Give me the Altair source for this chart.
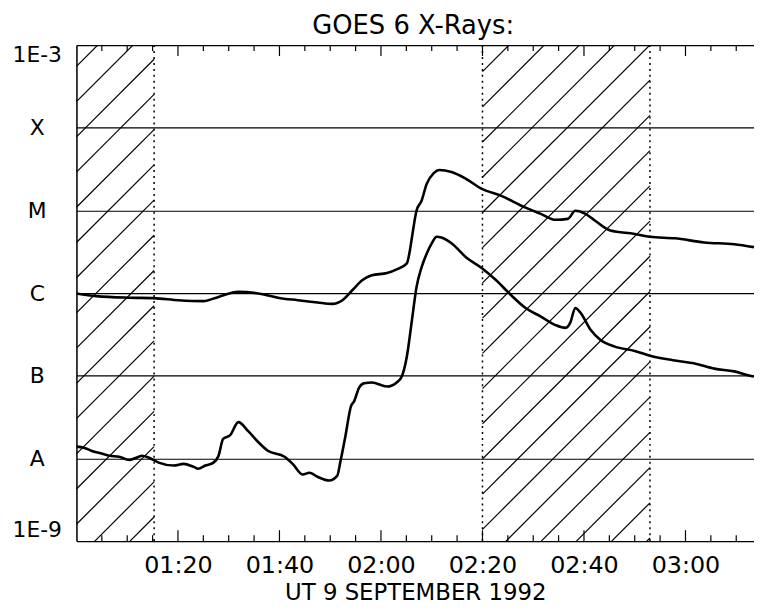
import altair as alt
import pandas as pd
import numpy as np

# ---- data (time in minutes after 00:00 UT, flux in W/m^2) ----
long_minutes = [60.0, 63.9, 70.4, 75.2, 80.1, 85.0, 88.0, 91.9, 96.7, 99.7, 103.6, 107.5,
                110.4, 112.4, 114.4, 116.3, 118.2, 121.2, 123.1, 125.1, 125.7, 126.1, 127.0,
                128.0, 129.0, 130.4, 131.5, 133.9, 136.8, 139.9, 143.7, 148.5, 151.5, 154.4,
                156.8, 158.3, 160.3, 162.2, 165.2, 170.0, 173.0, 177.9, 183.7, 189.6, 193.5]
long_flux = [9.9e-7, 9.2e-7, 8.8e-7, 8.7e-7, 8.2e-7, 8.0e-7, 9.0e-7, 1.04e-6, 9.7e-7, 8.8e-7,
             8.2e-7, 7.7e-7, 7.4e-7, 8.2e-7, 1.09e-6, 1.43e-6, 1.64e-6, 1.75e-6, 1.94e-6,
             2.29e-6, 3.28e-6, 4.70e-6, 9.9e-6, 1.31e-5, 2.09e-5, 2.83e-5, 3.08e-5, 2.91e-5,
             2.40e-5, 1.82e-5, 1.50e-5, 1.08e-5, 9.1e-6, 7.7e-6, 7.9e-6, 9.9e-6, 9.1e-6,
             7.5e-6, 5.7e-6, 5.2e-6, 4.8e-6, 4.6e-6, 4.1e-6, 3.9e-6, 3.6e-6]

short_minutes = [60.0, 61.6, 62.9, 65.1, 66.5, 68.4, 70.4, 72.3, 72.9, 74.3, 76.2, 79.2, 81.1,
                 83.1, 84.0, 85.4, 87.0, 88.0, 88.9, 90.3, 91.9, 93.8, 95.8, 97.7, 101.0,
                 102.6, 104.6, 105.9, 107.5, 109.8, 111.4, 112.0, 113.0, 114.1, 114.7, 115.7,
                 116.7, 118.2, 121.2, 123.1, 124.1, 125.1, 126.1, 127.0, 128.0, 129.0, 130.0,
                 131.0, 131.9, 133.9, 136.8, 139.9, 142.7, 145.6, 148.5, 151.5, 154.4, 156.4,
                 157.3, 158.3, 159.3, 161.3, 163.2, 166.1, 170.0, 173.0, 177.9, 181.8, 185.7,
                 189.6, 192.5, 193.5]
short_flux = [1.39e-8, 1.34e-8, 1.24e-8, 1.14e-8, 1.08e-8, 1.05e-8, 9.6e-9, 1.05e-8, 1.08e-8,
              1.02e-8, 8.9e-9, 8.2e-9, 8.6e-9, 7.9e-9, 7.5e-9, 8.2e-9, 8.9e-9, 1.08e-8,
              1.72e-8, 1.92e-8, 2.75e-8, 2.15e-8, 1.58e-8, 1.24e-8, 1.05e-8, 8.6e-9, 6.4e-9,
              6.7e-9, 6.0e-9, 5.4e-9, 6.2e-9, 9.1e-9, 1.87e-8, 4.3e-8, 4.9e-8, 7.2e-8, 8.1e-8,
              8.3e-8, 7.4e-8, 8.3e-8, 9.8e-8, 1.71e-7, 4.7e-7, 1.18e-6, 2.05e-6, 3.0e-6,
              4.0e-6, 4.8e-6, 4.7e-6, 4.0e-6, 2.7e-6, 2.0e-6, 1.43e-6, 9.5e-7, 6.6e-7, 5.2e-7,
              4.1e-7, 3.8e-7, 4.4e-7, 6.6e-7, 5.8e-7, 3.6e-7, 2.73e-7, 2.25e-7, 2.0e-7,
              1.75e-7, 1.53e-7, 1.41e-7, 1.22e-7, 1.13e-7, 1.01e-7, 9.8e-8]

# hatched intervals and their dotted edges
hatch_start = [60.0, 140.0]
hatch_end = [75.3, 173.0]
dotted_edges = [75.3, 140.0, 173.0]

y_tick_values = [1e-9, 1e-8, 1e-7, 1e-6, 1e-5, 1e-4, 1e-3]
y_tick_labels = ["1E-9", "A", "B", "C", "M", "X", "1E-3"]
x_label_values = [80, 100, 120, 140, 160, 180]
title_text = ["GOES 6 X-Rays:"]

X_DOMAIN = [60.0, 193.5]
Y_DOMAIN = [1e-9, 1e-3]
W, H = 683, 500

# ---- derived tables ----
df_long = pd.DataFrame({"t": long_minutes, "flux": long_flux})
df_short = pd.DataFrame({"t": short_minutes, "flux": short_flux})

# hatch segments (45 deg in screen space), expressed in data coordinates
spacing = 35.5
phases = [21.5, 10.0]
px_per_min = W / (X_DOMAIN[1] - X_DOMAIN[0])
ldec = np.log10(Y_DOMAIN[1]) - np.log10(Y_DOMAIN[0])
rows = []
for t0, t1, ph in zip(hatch_start, hatch_end, phases):
    X0 = (t0 - X_DOMAIN[0]) * px_per_min
    X1 = (t1 - X_DOMAIN[0]) * px_per_min
    c = ph
    while c < X1 + H + spacing:
        xa = max(X0, c - H)
        xb = min(X1, c)
        if xb > xa:
            ya, yb = c - xa, c - xb
            rows.append({
                "x": X_DOMAIN[0] + xa / px_per_min,
                "x2": X_DOMAIN[0] + xb / px_per_min,
                "y": 10 ** (np.log10(Y_DOMAIN[1]) - ya / H * ldec),
                "y2": 10 ** (np.log10(Y_DOMAIN[1]) - yb / H * ldec),
            })
        c += spacing
df_hatch = pd.DataFrame(rows)

df_edges = pd.DataFrame({"t": dotted_edges})
minor = [m for m in range(65, 194, 5) if m % 20 != 0]
major = [m for m in range(80, 194, 20)]
df_minor = pd.DataFrame({"t": minor})
df_major = pd.DataFrame({"t": major})
df_title = pd.DataFrame({"label": title_text})

FONT = "DejaVu Sans"

label_expr = "[" + ",".join("'" + s + "'" for s in y_tick_labels) + "][round(log(datum.value)/LN10)+9]"
x_label_expr = ("(floor(datum.value/60) < 10 ? '0' : '') + floor(datum.value/60) + ':' + "
                "((datum.value % 60) < 10 ? '0' : '') + (datum.value % 60)")

xscale = alt.Scale(domain=X_DOMAIN, nice=False, zero=False)
yscale = alt.Scale(type="log", domain=Y_DOMAIN, nice=False)

x_axis = alt.Axis(values=x_label_values, labelExpr=x_label_expr, grid=False, ticks=False,
                  tickSize=0, domain=False, labelFontSize=24, labelFont=FONT, labelColor="black",
                  labelPadding=13, title="UT 9 SEPTEMBER 1992", titleFontSize=23,
                  titleFont=FONT, titleFontWeight="normal", titleColor="black", titlePadding=4)
y_axis = alt.Axis(values=y_tick_values, labelExpr=label_expr, grid=True, gridColor="black",
                  gridOpacity=1, gridWidth=1.2, ticks=False, tickSize=0, domain=True,
                  domainColor="black", domainWidth=1.5, labelFontSize=22, labelFont=FONT,
                  labelColor="black", labelAlign="center", labelPadding=40, labelFlush=True,
                  title=None)

curve_long = alt.Chart(df_long).mark_line(color="black", strokeWidth=2.6, clip=True,
                                          interpolate="monotone").encode(
    x=alt.X("t:Q", scale=xscale, axis=x_axis),
    y=alt.Y("flux:Q", scale=yscale, axis=y_axis),
)
curve_short = alt.Chart(df_short).mark_line(color="black", strokeWidth=2.6, clip=True,
                                            interpolate="monotone").encode(
    x="t:Q", y="flux:Q")

hatch = alt.Chart(df_hatch).mark_rule(color="black", strokeWidth=1.2, clip=True).encode(
    x="x:Q", x2="x2:Q", y="y:Q", y2="y2:Q")

edges = alt.Chart(df_edges).mark_rule(color="black", strokeWidth=1.5, strokeDash=[2, 4]).encode(
    x="t:Q")

tick_layers = []
for df_t, ln in [(df_minor, 6), (df_major, 11)]:
    tick_layers.append(alt.Chart(df_t).mark_rule(color="black", strokeWidth=1.2).encode(
        x="t:Q", y=alt.value(H), y2=alt.value(H - ln)))
    tick_layers.append(alt.Chart(df_t).mark_rule(color="black", strokeWidth=1.2).encode(
        x="t:Q", y=alt.value(0), y2=alt.value(ln)))

title = alt.Chart(df_title).mark_text(font=FONT, fontSize=26, color="black", align="center",
                                      baseline="alphabetic").encode(
    text="label:N", x=alt.value(W / 2 - 2), y=alt.value(-11))

chart = alt.layer(hatch, edges, *tick_layers, curve_long, curve_short, title).properties(
    width=W, height=H,
    autosize=alt.AutoSizeParams(type="none"),
    padding={"left": 69, "top": 35, "right": 0, "bottom": 61},
).configure_view(stroke=None).configure(background="white")

chart.save("out.html", embed_options={"renderer": "svg", "actions": False})
